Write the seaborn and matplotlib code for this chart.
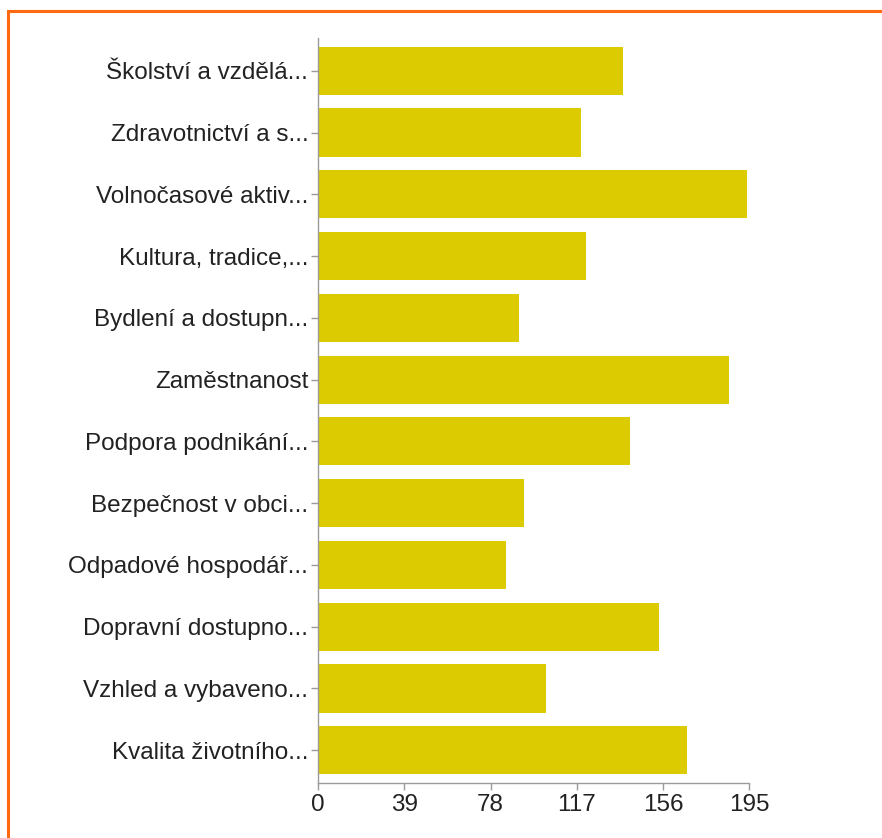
import matplotlib
matplotlib.use("Agg")
import matplotlib.pyplot as plt
import seaborn as sns
import pandas as pd
from matplotlib.patches import Rectangle

categories = [
    "Školství a vzdělá...",
    "Zdravotnictví a s...",
    "Volnočasové aktiv...",
    "Kultura, tradice,...",
    "Bydlení a dostupn...",
    "Zaměstnanost",
    "Podpora podnikání...",
    "Bezpečnost v obci...",
    "Odpadové hospodář...",
    "Dopravní dostupno...",
    "Vzhled a vybaveno...",
    "Kvalita životního...",
]
values = [138, 119, 194, 121, 91, 186, 141, 93, 85, 154, 103, 167]
xticks = [0, 39, 78, 117, 156, 195]

df = pd.DataFrame({"category": categories, "value": values})

sns.set_theme(style="white")
plt.rcParams['font.family'] = ['Liberation Sans', 'DejaVu Sans']

W, H = 882, 838
fig = plt.figure(figsize=(W / 100, H / 100), dpi=100)
ax = fig.add_axes([318 / W, 1 - 783 / H, (749.3 - 318) / W, (783 - 38) / H])

sns.barplot(data=df, x="value", y="category", color="#DCCB00", saturation=1,
            width=0.78, ax=ax, edgecolor="none")

ax.set_xlim(0, 195)
ax.set_ylim(11.53, -0.53)
ax.set_xticks(xticks)
ax.set_xticklabels([str(t) for t in xticks])
ax.set_xlabel("")
ax.set_ylabel("")

for s in ["top", "right"]:
    ax.spines[s].set_visible(False)
for s in ["left", "bottom"]:
    ax.spines[s].set_visible(True)
    ax.spines[s].set_color("#9a9a9a")
    ax.spines[s].set_linewidth(1.0)

ax.tick_params(axis="both", which="both", length=5, width=1, color="#9a9a9a",
               labelsize=17.5, labelcolor="#222222", direction="out")
ax.tick_params(axis="y", pad=2, left=True)
ax.tick_params(axis="x", pad=3, bottom=True)

# orange frame around the figure (extends off the right and bottom edges)
fig.patches.append(Rectangle((8 / W, -0.05), 1.2, 1 - 11 / H + 0.05,
                             transform=fig.transFigure, fill=False,
                             edgecolor="#FF6A10", linewidth=2.2))

fig.savefig("out.png", dpi=100)
